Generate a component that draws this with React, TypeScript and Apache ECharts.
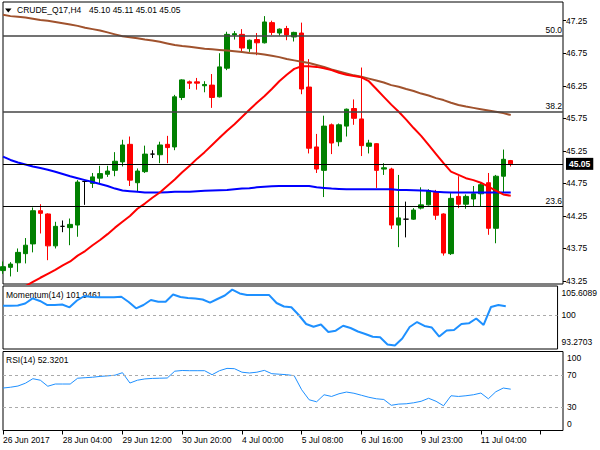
import React, { useEffect, useRef } from "react";
import * as echarts from "echarts";

// ---- data ----
const tickLabels = ["26 Jun 2017", "28 Jun 04:00", "29 Jun 12:00", "30 Jun 20:00", "4 Jul 00:00", "5 Jul 08:00", "6 Jul 16:00", "9 Jul 23:00", "11 Jul 04:00"];
const opens = [43.41, 43.46, 43.53, 43.67, 43.82, 44.33, 44.28, 43.79, 44.09, 44.07, 44.11, 44.78, 44.75, 44.83, 44.89, 44.95, 45.08, 45.35, 44.76, 44.93, 45.20, 45.19, 45.35, 45.31, 46.07, 46.31, 46.31, 46.25, 46.26, 46.08, 46.52, 47.03, 47.04, 46.82, 46.96, 46.91, 47.22, 47.06, 47.13, 47.00, 47.06, 46.23, 45.31, 44.95, 45.65, 45.39, 45.63, 45.90, 45.74, 45.32, 45.36, 44.97, 44.97, 44.11, 44.20, 44.20, 44.37, 44.42, 44.61, 44.28, 43.67, 44.55, 44.43, 44.51, 44.59, 44.76, 44.06, 44.86, 45.10];
const closes = [43.47, 43.51, 43.69, 43.80, 44.33, 44.29, 43.79, 44.09, 44.09, 44.12, 44.77, 44.78, 44.85, 44.90, 44.94, 45.09, 45.34, 44.80, 44.94, 45.20, 45.20, 45.34, 45.30, 46.08, 46.34, 46.29, 46.29, 46.27, 46.07, 46.54, 47.04, 47.05, 46.83, 46.95, 46.91, 47.23, 47.07, 47.12, 47.03, 47.07, 46.20, 45.29, 44.97, 45.63, 45.37, 45.65, 45.89, 45.75, 45.33, 45.37, 44.95, 44.99, 44.11, 44.22, 44.20, 44.34, 44.42, 44.64, 44.26, 43.68, 44.52, 44.43, 44.55, 44.59, 44.73, 44.06, 44.86, 45.12, 45.05];
const lows = [43.36, 43.32, 43.39, 43.52, 43.69, 43.98, 43.57, 43.75, 44.00, 43.80, 43.93, 44.42, 44.68, 44.74, 44.85, 44.86, 45.01, 44.71, 44.62, 44.91, 45.14, 45.06, 45.06, 45.26, 46.03, 46.20, 46.19, 46.15, 45.91, 46.07, 46.49, 46.96, 46.77, 46.77, 46.72, 46.90, 47.03, 47.02, 46.95, 46.93, 46.12, 45.21, 44.91, 44.54, 45.20, 45.32, 45.47, 45.65, 45.17, 45.21, 44.68, 44.88, 44.05, 43.77, 43.92, 44.19, 44.35, 44.41, 44.19, 43.64, 43.65, 44.37, 44.36, 44.40, 44.40, 43.96, 43.83, 44.60, 45.01];
const highs = [43.55, 43.54, 43.75, 43.91, 44.38, 44.43, 44.29, 44.16, 44.18, 44.21, 44.80, 44.79, 44.91, 45.02, 45.02, 45.23, 45.42, 45.47, 44.98, 45.33, 45.26, 45.39, 45.48, 46.11, 46.35, 46.33, 46.37, 46.32, 46.43, 46.75, 47.08, 47.09, 47.12, 46.96, 47.06, 47.32, 47.25, 47.13, 47.17, 47.08, 47.22, 46.66, 45.51, 45.79, 45.67, 45.67, 45.90, 46.04, 46.53, 45.42, 45.37, 45.06, 44.99, 44.88, 44.47, 44.37, 44.69, 44.66, 44.65, 44.29, 44.60, 44.86, 44.58, 44.71, 44.77, 44.91, 44.88, 45.27, 45.11];
const ma200 = [47.34, 47.32, 47.31, 47.30, 47.28, 47.26, 47.25, 47.23, 47.21, 47.19, 47.17, 47.14, 47.12, 47.10, 47.07, 47.04, 47.01, 46.995, 46.98, 46.96, 46.945, 46.925, 46.90, 46.875, 46.86, 46.85, 46.835, 46.82, 46.81, 46.80, 46.79, 46.78, 46.77, 46.755, 46.745, 46.73, 46.71, 46.69, 46.66, 46.64, 46.62, 46.60, 46.57, 46.54, 46.50, 46.47, 46.44, 46.41, 46.39, 46.36, 46.33, 46.30, 46.26, 46.235, 46.20, 46.17, 46.13, 46.10, 46.06, 46.03, 45.99, 45.955, 45.93, 45.91, 45.89, 45.87, 45.85, 45.83, 45.80];
const ma100 = [45.16, 45.11, 45.07, 45.04, 45.01, 44.985, 44.96, 44.93, 44.895, 44.86, 44.83, 44.80, 44.77, 44.74, 44.71, 44.67, 44.64, 44.63, 44.62, 44.61, 44.61, 44.61, 44.615, 44.62, 44.62, 44.62, 44.63, 44.635, 44.64, 44.645, 44.65, 44.66, 44.67, 44.675, 44.69, 44.70, 44.705, 44.71, 44.71, 44.71, 44.71, 44.71, 44.69, 44.68, 44.67, 44.665, 44.66, 44.66, 44.66, 44.66, 44.66, 44.66, 44.66, 44.65, 44.65, 44.645, 44.64, 44.635, 44.62, 44.615, 44.61, 44.61, 44.61, 44.61, 44.61, 44.61, 44.61, 44.61, 44.61];
const ma20 = [42.97, 43.03, 43.10, 43.17, 43.236, 43.30, 43.36, 43.42, 43.49, 43.55, 43.64, 43.71, 43.80, 43.88, 43.97, 44.07, 44.16, 44.25, 44.36, 44.44, 44.53, 44.61, 44.71, 44.81, 44.92, 45.02, 45.13, 45.23, 45.34, 45.45, 45.56, 45.66, 45.77, 45.88, 45.99, 46.09, 46.20, 46.32, 46.42, 46.51, 46.55, 46.55, 46.54, 46.52, 46.49, 46.45, 46.42, 46.40, 46.38, 46.32, 46.20, 46.08, 45.96, 45.85, 45.73, 45.60, 45.48, 45.34, 45.20, 45.06, 44.93, 44.88, 44.83, 44.80, 44.76, 44.70, 44.64, 44.58, 44.56];
const momentum = [102.06, 102.06, 102.10, 102.54, 103.69, 103.10, 102.21, 102.21, 102.32, 101.70, 103.21, 104.20, 103.98, 103.92, 103.92, 103.92, 104.05, 102.88, 101.48, 102.21, 103.32, 102.94, 102.94, 104.54, 103.98, 103.76, 103.65, 103.43, 102.72, 103.54, 104.31, 105.6089, 104.76, 104.42, 104.42, 104.42, 104.40, 102.65, 101.88, 101.70, 100.00, 98.01, 97.41, 97.90, 96.24, 96.53, 97.63, 97.12, 96.35, 95.80, 95.18, 95.07, 93.47, 93.2703, 94.80, 97.35, 98.45, 97.57, 97.23, 95.24, 96.57, 96.68, 98.01, 98.16, 99.23, 97.79, 101.77, 102.21, 101.9461];
const rsi = [53.75, 54.76, 56.29, 59.84, 65.56, 63.65, 56.03, 58.83, 58.83, 58.83, 66.19, 66.83, 67.46, 68.48, 69.11, 70.0, 73.17, 60.10, 63.65, 65.30, 65.94, 66.19, 66.44, 75.08, 75.97, 75.71, 75.71, 75.71, 70.63, 75.71, 78.63, 78.25, 73.81, 72.79, 73.81, 76.10, 71.90, 71.27, 70.63, 69.37, 51.59, 38.89, 36.35, 45.24, 43.08, 46.51, 48.67, 47.14, 44.60, 42.06, 40.16, 39.27, 31.90, 33.43, 33.81, 35.08, 36.98, 40.79, 36.98, 31.27, 43.97, 43.08, 43.97, 45.24, 47.40, 40.16, 49.05, 53.75, 52.3201];
const priceTicks = [43.25, 43.75, 44.25, 44.75, 45.25, 45.75, 46.25, 46.75, 47.25];
const momentumTicks = [93.2703, 100, 105.6089];
const rsiTicks = [0, 30, 70];
const rsiMaxLabel = "100\u2009";
const fibLevels = [47.02, 45.85, 44.4];
const fibNames = ["50.0", "38.2", "23.6"];
const lastPrice = 45.05;
const headerValues = ["45.10", "45.11", "45.01", "45.05"];
const symbolName = "CRUDE_Q17,H4";
const momentumLast = "101.9461";
const rsiLast = "52.3201";
const SLOTS = 76;

const FONT = "Liberation Sans, Arial, sans-serif";
const FS = 8.5;

export default function App() {
  const ref = useRef<HTMLDivElement>(null);
  useEffect(() => {
    if (!ref.current) return;
    const chart = echarts.init(ref.current, null, { renderer: "svg" });
    const cats = Array.from({ length: SLOTS }, (_, i) => String(i));
    const candles = opens.map((o, i) => [o, closes[i], lows[i], highs[i]]);
    const left = 3;
    const width = 560;
    const baseX = (show: boolean, gi: number) => ({
      type: "category",
      gridIndex: gi,
      data: cats,
      boundaryGap: false,
      axisLine: { show: false },
      splitLine: { show: false },
      axisTick: show
        ? { show: true, interval: 7, length: 4, lineStyle: { color: "#000" } }
        : { show: false },
      axisLabel: show
        ? {
            show: true,
            interval: 7,
            align: "left",
            margin: 5,
            fontSize: FS,
            fontFamily: FONT,
            color: "#000",
            formatter: (_v: string, idx: number) => (idx % 8 === 0 && tickLabels[idx / 8]) || "",
          }
        : { show: false },
    });
    const yBase = {
      position: "right",
      axisLine: { show: false },
      splitLine: { show: false },
    };
    const labelStyle = { fontSize: FS, fontFamily: FONT, color: "#000" };
    const option: any = {
      animation: false,
      backgroundColor: "#fff",
      grid: [
        { left, width, top: 2, height: 282, show: true, borderColor: "#000", borderWidth: 1 },
        { left, width, top: 286, height: 63, show: true, borderColor: "#000", borderWidth: 1 },
        { left, width, top: 351.5, height: 79, show: true, borderColor: "#000", borderWidth: 1 },
      ],
      xAxis: [baseX(false, 0), baseX(false, 1), baseX(true, 2)],
      yAxis: [
        {
          ...yBase,
          type: "value",
          gridIndex: 0,
          min: 43.204,
          max: 47.537,
          axisTick: { show: true, length: 3, customValues: priceTicks, lineStyle: { color: "#000" } },
          axisLabel: { ...labelStyle, margin: 3, customValues: priceTicks, formatter: (v: number) => v.toFixed(2) },
        },
        {
          ...yBase,
          type: "value",
          gridIndex: 1,
          min: 92.478,
          max: 106.416,
          axisTick: { show: false },
          axisLabel: {
            ...labelStyle,
            margin: 4,
            customValues: momentumTicks,
            formatter: (v: number) => {
              const i = momentumTicks.indexOf(v);
              if (i === 0) return "{up|93.2703}";
              if (i === 2) return "{dn|105.6089}";
              return "100";
            },
            rich: {
              up: { ...labelStyle, padding: [0, 0, 6, 0] },
              dn: { ...labelStyle, padding: [7, 0, 0, 0] },
            },
          },
        },
        {
          ...yBase,
          type: "value",
          gridIndex: 2,
          min: -0.01,
          max: 100.01,
          axisTick: { show: false },
          axisLabel: {
            ...labelStyle,
            margin: 4,
            showMinLabel: true,
            customValues: rsiTicks,
            formatter: (v: number) => (Math.abs(v) < 0.5 ? "{up|0}" : String(Math.round(v))),
            rich: {
              up: { ...labelStyle, padding: [0, 0, 12, 0] },
            },
          },
        },
      ],
      series: [
        {
          type: "candlestick",
          xAxisIndex: 0,
          yAxisIndex: 0,
          data: candles,
          barWidth: 5,
          itemStyle: {
            color: "#008000",
            color0: "#ff0000",
            borderColor: "#008000",
            borderColor0: "#ff0000",
            borderColorDoji: "#000000",
            borderWidth: 1,
          },
          markLine: {
            silent: true,
            symbol: "none",
            animation: false,
            data: [
              ...fibLevels.map((lv, i) => ({
                yAxis: lv,
                lineStyle: { color: i < 2 ? "#444" : "#000", width: i < 2 ? 1.6 : 1, type: "solid" },
                label: {
                  show: true,
                  position: "insideEndTop",
                  distance: [1, 1],
                  formatter: fibNames[i],
                  ...labelStyle,
                },
              })),
              {
                yAxis: lastPrice,
                lineStyle: { color: "#000", width: 1, type: "solid" },
                label: {
                  show: true,
                  position: "end",
                  distance: 3,
                  formatter: lastPrice.toFixed(2),
                  backgroundColor: "#000",
                  color: "#fff",
                  fontSize: FS,
                  fontFamily: FONT,
                  fontWeight: "bold",
                  padding: [2, 3, 1, 3],
                },
              },
            ],
          },
        },
        {
          type: "line",
          xAxisIndex: 0,
          yAxisIndex: 0,
          data: ma200,
          showSymbol: false,
          lineStyle: { color: "#a0522d", width: 2 },
        },
        {
          type: "line",
          xAxisIndex: 0,
          yAxisIndex: 0,
          data: ma100,
          showSymbol: false,
          lineStyle: { color: "#0000ff", width: 2 },
        },
        {
          type: "line",
          xAxisIndex: 0,
          yAxisIndex: 0,
          data: ma20,
          showSymbol: false,
          clip: true,
          lineStyle: { color: "#ff0000", width: 2 },
        },
        {
          type: "line",
          xAxisIndex: 1,
          yAxisIndex: 1,
          data: momentum,
          showSymbol: false,
          lineStyle: { color: "#1e90ff", width: 2 },
          markLine: {
            silent: true,
            symbol: "none",
            label: { show: false },
            lineStyle: { color: "#aaa", type: [3, 3], width: 1 },
            data: [{ yAxis: 100 }],
          },
        },
        {
          type: "line",
          xAxisIndex: 2,
          yAxisIndex: 2,
          data: rsi,
          showSymbol: false,
          lineStyle: { color: "#1e90ff", width: 1 },
          markLine: {
            silent: true,
            symbol: "none",
            label: { show: false },
            lineStyle: { color: "#aaa", type: [3, 3], width: 1 },
            data: [{ yAxis: 70 }, { yAxis: 30 }],
          },
        },
      ],
      graphic: [
        { type: "polygon", shape: { points: [[5, 8.5], [11.5, 8.5], [8.25, 12.5]] }, style: { fill: "#000" } },
        { type: "text", left: 17, top: 5, style: { text: symbolName, fontSize: FS, fontFamily: FONT, fill: "#000" } },
        { type: "text", left: 89, top: 5, style: { text: headerValues.join(" "), fontSize: FS, fontFamily: FONT, fill: "#000" } },
        { type: "text", left: 6, top: 290, style: { text: "Momentum(14) " + momentumLast, fontSize: FS, fontFamily: FONT, fill: "#000" } },
        { type: "text", left: 6, top: 355, style: { text: "RSI(14) " + rsiLast, fontSize: FS, fontFamily: FONT, fill: "#000" } },
        {
          type: "text",
          x: 567,
          y: 357.5,
          z: 100,
          style: { text: rsiMaxLabel, fontSize: FS, fontFamily: FONT, fill: "#000", align: "left", verticalAlign: "middle" },
        },
      ],
    };
    chart.setOption(option);
    return () => chart.dispose();
  }, []);
  return (
    <div
      ref={ref}
      style={{ position: "fixed", left: 0, top: 0, width: 600, height: 450, background: "#fff" }}
    />
  );
}
